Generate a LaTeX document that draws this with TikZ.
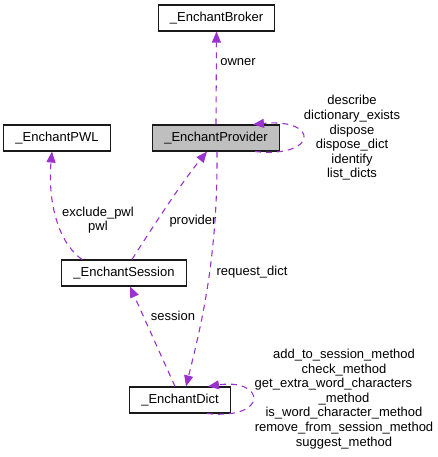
\documentclass[tikz,border=0pt]{standalone}
\usepackage{fontspec}
\setsansfont{Liberation Sans}
\usetikzlibrary{arrows.meta}
\definecolor{edgecol}{HTML}{9A32CD}
\definecolor{focus}{HTML}{BFBFBF}
\definecolor{ink}{HTML}{1A1A1A}

\begin{document}
\begin{tikzpicture}[x=1pt, y=-1pt,
    font=\sffamily\fontsize{13pt}{14.6pt}\selectfont,
    cls/.style={draw=ink, line width=1.1pt, fill=white, minimum height=26pt,
      inner xsep=11.5pt, inner ysep=0pt},
    member/.style={draw=edgecol, line width=1.1pt, dash pattern=on 6pt off 5pt,
      -{Triangle[length=11pt, width=9pt, fill=edgecol]}},
    lbl/.style={align=center, inner sep=0pt, text=black}]
  \useasboundingbox (0,0) rectangle (438,457);

  % classes
  \node[cls] (broker) at (216.5,18) {\_EnchantBroker};
  \node[cls, fill=focus] (prov) at (216,138) {\_EnchantProvider};
  \node[cls] (pwl) at (57,138) {\_EnchantPWL};
  \node[cls] (sess) at (124,273) {\_EnchantSession};
  \node[cls] (dict) at (180,400) {\_EnchantDict};

  % members
  \draw[member] (prov.north) -- (broker.south);
  \node[lbl] (ownerlbl) at (238,62) {owner};

  \draw[member] ([xshift=39pt]prov.south) .. controls (319,158) and (319,118) .. ([xshift=37pt]prov.north);
  \node[lbl] (provlbl) at (352,138) {describe\\dictionary\_exists\\dispose\\dispose\_dict\\identify\\list\_dicts};

  \draw[member] ([xshift=-42pt]sess.north) .. controls (55,240) and (48,195) .. ([xshift=-5pt]pwl.south);
  \node[lbl] (pwllbl) at (98,220) {exclude\_pwl\\pwl};

  \draw[member] ([xshift=8pt]sess.north) .. controls (152,228) and (182,182) .. ([xshift=-9pt]prov.south);
  \node[lbl] (sesslbl) at (193,221) {provider};

  \draw[member] ([xshift=1pt]prov.south) .. controls (218,260) and (200,330) .. ([xshift=6pt]dict.north);
  \node[lbl] (reqlbl) at (252,272) {request\_dict};

  \draw[member] ([xshift=-5pt]dict.north) -- ([xshift=6pt]sess.south);
  \node[lbl] (dictlbl) at (173,316) {session};

  \draw[member] ([xshift=27pt]dict.south) .. controls (270,420) and (265,378) .. ([xshift=28pt]dict.north);
  \node[lbl] (methlbl) at (344,399) {add\_to\_session\_method\\check\_method\\get\_extra\_word\_characters\rule{21pt}{0pt}\\\_method\\is\_word\_character\_method\\remove\_from\_session\_method\\suggest\_method};
\end{tikzpicture}
\end{document}
